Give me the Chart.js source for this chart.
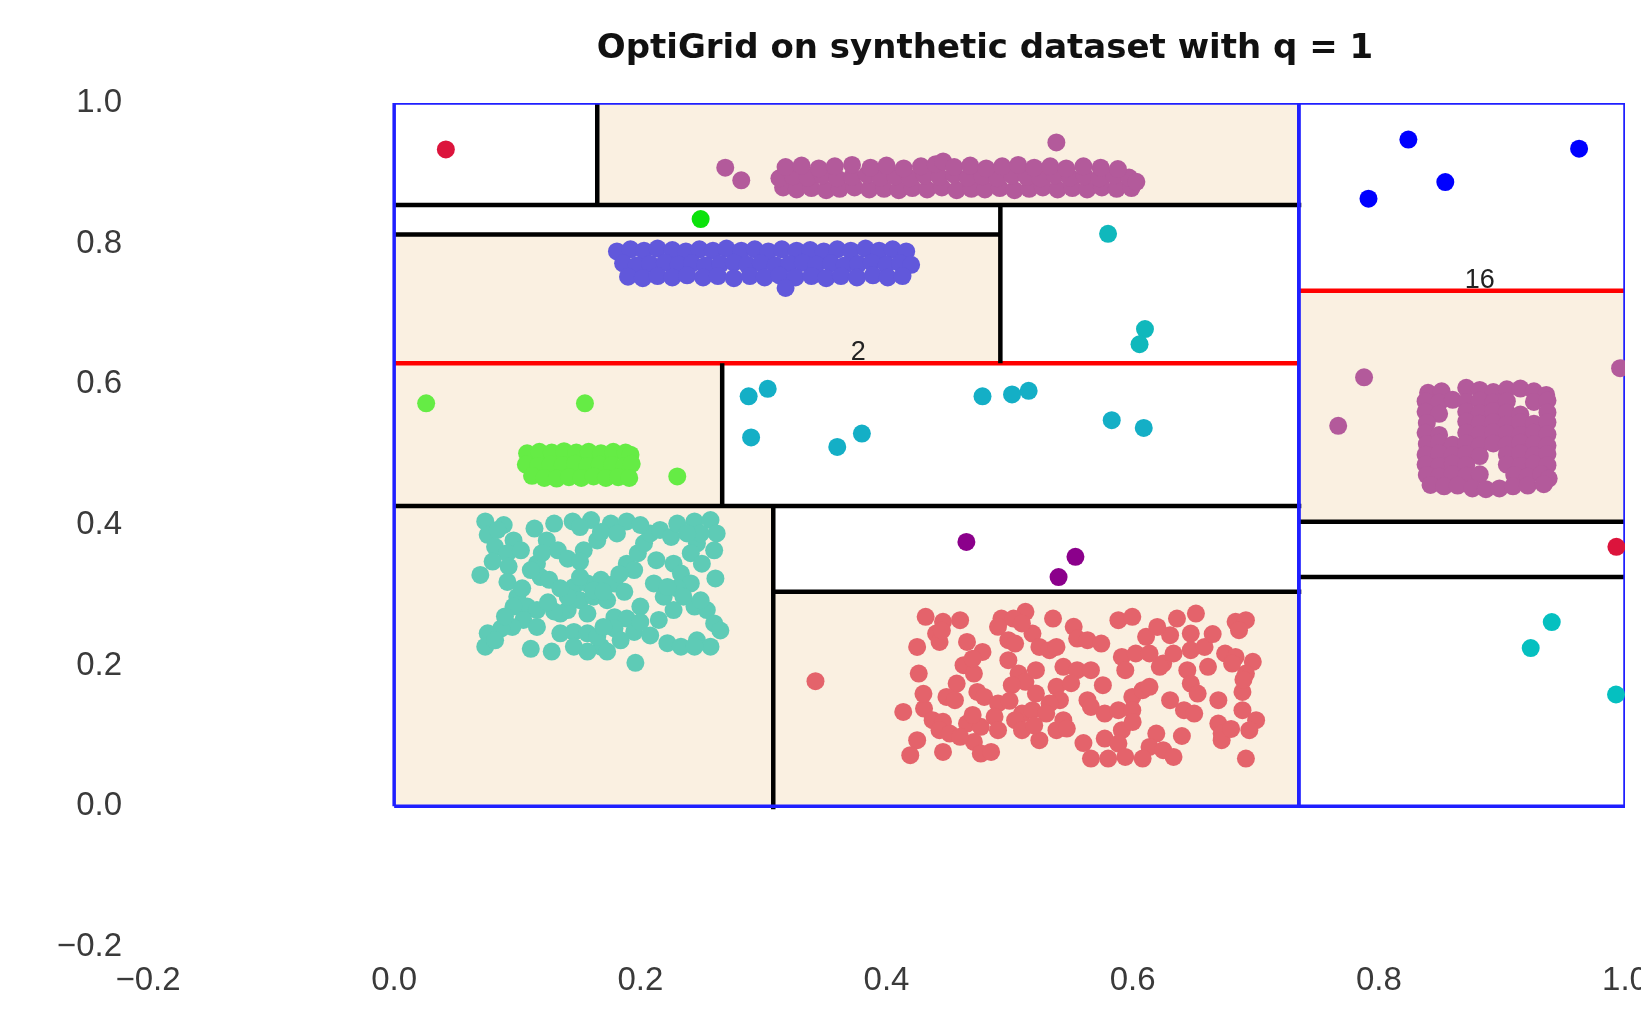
<!DOCTYPE html>
<html>
<head>
<meta charset="utf-8">
<title>OptiGrid on synthetic dataset with q = 1</title>
<script src="https://cdn.jsdelivr.net/npm/chart.js@4.4.1/dist/chart.umd.min.js"></script>
<style>
  html, body { margin: 0; padding: 0; overflow: hidden; background: #fff; }
  #wrap { position: relative; width: 1700px; height: 1011px; }
  #title {
    position: absolute; top: 29px; left: 985px; transform: translateX(-50%);
    font: bold 34px 'DejaVu Sans', sans-serif; line-height: 34px;
    white-space: nowrap; color: #111;
  }
</style>
</head>
<body>
<div id="wrap">
  <canvas id="chart"></canvas>
  <div id="title">OptiGrid on synthetic dataset with q = 1</div>
</div>
<script>
// ── tick labels ──
const xTicks = [-0.2, 0.0, 0.2, 0.4, 0.6, 0.8, 1.0];
const yTicks = [-0.2, 0.0, 0.2, 0.4, 0.6, 0.8, 1.0];

// ── grid: [x0, x1, y0, y1] ──
const outerBoxes = [[0, 0.735, 0, 1], [0.735, 1.0, 0, 1]];
const denseCells = [
    [0.165, 0.735, 0.855, 1.0],
    [0, 0.4925, 0.630, 0.813],
    [0, 0.2665, 0.427, 0.630],
    [0, 0.308, 0, 0.427],
    [0.308, 0.735, 0, 0.305],
    [0.735, 1.0, 0.4045, 0.733]
];
// cutting planes: [x0, x1, y0, y1]
const blackCuts = [
    [0, 0.737, 0.855, 0.855],
    [0.165, 0.165, 0.855, 1.0],
    [0, 0.4925, 0.813, 0.813],
    [0.4925, 0.4925, 0.630, 0.855],
    [0.2665, 0.2665, 0.427, 0.630],
    [0, 0.737, 0.427, 0.427],
    [0.308, 0.308, -0.004, 0.427],
    [0.308, 0.737, 0.305, 0.305],
    [0.735, 1.002, 0.4045, 0.4045],
    [0.735, 1.002, 0.326, 0.326]
];
const redCuts = [
    [0, 0.735, 0.630, 0.630],
    [0.735, 1.002, 0.733, 0.733]
];
const cutLabels = ['2', '16'];
const cutLabelX = [0.377, 0.882];
const cutLabelY = [0.645, 0.747];

// ── points ──
const crimsonPts = [[0.042, 0.934], [0.993, 0.369]];
const limePts = [[0.249, 0.835]];
const purpleBand = [
    [0.316,0.880],[0.327,0.877],[0.339,0.879],[0.351,0.876],[0.362,0.878],[0.374,0.880],[0.386,0.877],[0.398,0.878],[0.410,0.876],[0.421,0.879],[0.433,0.877],[0.445,0.880],[0.457,0.876],[0.469,0.878],[0.480,0.877],[0.492,0.879],[0.504,0.876],[0.516,0.878],[0.527,0.880],[0.539,0.877],[0.551,0.879],[0.563,0.877],[0.575,0.880],[0.587,0.878],[0.599,0.879],
    [0.313,0.893],[0.324,0.896],[0.336,0.894],[0.348,0.897],[0.360,0.893],[0.372,0.895],[0.384,0.898],[0.395,0.894],[0.407,0.896],[0.419,0.893],[0.431,0.897],[0.443,0.895],[0.455,0.898],[0.466,0.894],[0.478,0.896],[0.490,0.893],[0.502,0.897],[0.514,0.895],[0.525,0.893],[0.537,0.897],[0.549,0.894],[0.561,0.896],[0.573,0.893],[0.585,0.897],[0.597,0.894],[0.603,0.888],
    [0.318,0.909],[0.331,0.911],[0.345,0.907],[0.358,0.910],[0.372,0.912],[0.387,0.908],[0.400,0.911],[0.414,0.907],[0.428,0.910],[0.440,0.913],[0.446,0.917],[0.455,0.909],[0.468,0.911],[0.481,0.907],[0.494,0.910],[0.507,0.912],[0.520,0.908],[0.533,0.910],[0.546,0.907],[0.560,0.910],[0.574,0.908],[0.588,0.906],
    [0.269,0.908],[0.282,0.890],[0.538,0.944]
];
const violetBand = [
    [0.181,0.789],[0.192,0.792],[0.203,0.790],[0.214,0.793],[0.226,0.791],[0.237,0.789],[0.248,0.792],[0.259,0.790],[0.270,0.793],[0.282,0.790],[0.293,0.792],[0.304,0.789],[0.315,0.792],[0.327,0.790],[0.338,0.791],[0.349,0.789],[0.360,0.792],[0.371,0.790],[0.383,0.793],[0.394,0.790],[0.405,0.792],[0.416,0.789],
    [0.186,0.772],[0.197,0.769],[0.208,0.771],[0.220,0.773],[0.231,0.770],[0.242,0.772],[0.253,0.769],[0.265,0.771],[0.276,0.773],[0.287,0.770],[0.298,0.772],[0.310,0.769],[0.321,0.771],[0.332,0.773],[0.343,0.770],[0.355,0.772],[0.366,0.769],[0.377,0.771],[0.388,0.773],[0.400,0.770],[0.411,0.772],[0.420,0.770],
    [0.190,0.753],[0.202,0.751],[0.214,0.754],[0.226,0.752],[0.238,0.755],[0.251,0.752],[0.263,0.754],[0.276,0.751],[0.289,0.754],[0.301,0.752],[0.313,0.755],[0.326,0.752],[0.339,0.754],[0.351,0.751],[0.363,0.754],[0.376,0.752],[0.389,0.755],[0.401,0.752],[0.413,0.754],
    [0.318,0.737]
];
const greenBlob = [
    [0.108,0.502],[0.118,0.504],[0.128,0.503],[0.138,0.505],[0.148,0.503],[0.158,0.504],[0.168,0.502],[0.178,0.504],[0.188,0.503],[0.192,0.500],
    [0.107,0.486],[0.117,0.484],[0.127,0.486],[0.137,0.485],[0.147,0.487],[0.157,0.484],[0.167,0.486],[0.177,0.485],[0.187,0.484],[0.193,0.487],
    [0.112,0.470],[0.122,0.467],[0.132,0.466],[0.142,0.468],[0.152,0.467],[0.162,0.469],[0.172,0.467],[0.182,0.468],[0.191,0.467],
    [0.026,0.573],[0.155,0.573],[0.230,0.469]
];
const tealCluster = [
    [0.074,0.405],[0.089,0.400],[0.076,0.386],[0.082,0.369],[0.097,0.378],[0.092,0.360],[0.080,0.348],[0.070,0.329],[0.093,0.341],[0.092,0.319],
    [0.100,0.298],[0.108,0.284],[0.097,0.284],[0.116,0.279],[0.105,0.265],[0.096,0.255],[0.087,0.253],[0.076,0.246],[0.074,0.227],[0.082,0.236],
    [0.114,0.395],[0.130,0.402],[0.145,0.405],[0.160,0.407],[0.176,0.402],[0.189,0.405],[0.124,0.378],[0.133,0.364],[0.141,0.352],[0.154,0.364],[0.165,0.378],[0.151,0.348],[0.116,0.345],[0.119,0.326],[0.126,0.322],
    [0.146,0.312],[0.157,0.317],[0.168,0.322],[0.179,0.317],[0.187,0.305],[0.151,0.293],[0.162,0.298],[0.173,0.293],[0.141,0.279],[0.157,0.274],[0.179,0.269],[0.189,0.267],[0.135,0.274],
    [0.189,0.345],[0.198,0.360],[0.195,0.336],[0.203,0.374],[0.208,0.388],[0.216,0.393],[0.225,0.383],[0.230,0.402],[0.244,0.405],[0.257,0.407],[0.262,0.388],[0.260,0.364],[0.246,0.374],[0.241,0.360],[0.227,0.345],[0.233,0.331],[0.241,0.317],[0.230,0.310],[0.235,0.298],[0.211,0.317],[0.219,0.298],[0.227,0.279],[0.244,0.284],[0.254,0.279],[0.260,0.260],[0.265,0.250],[0.261,0.324],[0.200,0.284],
    [0.135,0.246],[0.146,0.248],[0.157,0.246],[0.179,0.253],[0.195,0.248],[0.208,0.243],[0.184,0.236],[0.168,0.227],[0.157,0.220],[0.146,0.227],[0.173,0.220],[0.128,0.220],[0.111,0.224],[0.222,0.232],[0.233,0.227],[0.246,0.236],[0.257,0.227],[0.196,0.204],
    [0.151,0.397],[0.168,0.390],[0.181,0.388],[0.084,0.393],[0.103,0.364],[0.111,0.336],[0.162,0.307],[0.151,0.326],[0.141,0.298],[0.130,0.277],[0.249,0.388],[0.238,0.388],[0.222,0.312],[0.249,0.293],[0.116,0.255],[0.165,0.241],[0.244,0.227],
    [0.135,0.310],[0.170,0.305],[0.183,0.330],[0.104,0.310],[0.120,0.360],[0.213,0.350],[0.250,0.345],[0.090,0.270],[0.200,0.400],[0.125,0.290],[0.200,0.262],[0.215,0.265],[0.170,0.255]
];
const redCluster = [
    [0.4318,0.2694],[0.4459,0.2623],[0.4598,0.2647],[0.4934,0.2670],[0.5129,0.2765],[0.5032,0.2670],[0.5353,0.2670],[0.5521,0.2552],[0.5884,0.2647],[0.5997,0.2694],[0.6360,0.2670],[0.6514,0.2741],[0.6836,0.2623],[0.6920,0.2647],
    [0.4249,0.2267],[0.4403,0.2457],[0.4431,0.2338],[0.4654,0.2338],[0.4780,0.2196],[0.4906,0.2552],[0.4990,0.2362],[0.5045,0.2315],[0.5186,0.2457],[0.5242,0.2267],[0.5325,0.2220],[0.5381,0.2267],[0.5549,0.2386],[0.5633,0.2362],[0.5745,0.2315],[0.6109,0.2410],[0.6304,0.2433],[0.6472,0.2457],[0.6864,0.2504],
    [0.4262,0.1888],[0.4626,0.2007],[0.4710,0.1888],[0.4990,0.2078],[0.5073,0.1888],[0.5129,0.1770],[0.5214,0.1936],[0.5437,0.1983],[0.5549,0.1936],[0.5661,0.1936],[0.5912,0.2125],[0.6025,0.2173],[0.6137,0.2173],[0.6248,0.2030],[0.6332,0.2173],[0.6472,0.2220],[0.6584,0.2267],[0.6444,0.1936],[0.6612,0.1983],[0.6751,0.2173],[0.6836,0.2125],[0.6976,0.2054],[0.6920,0.1888],[0.6808,0.2030],[0.5940,0.1936],[0.6220,0.1983],
    [0.4570,0.1746],[0.4487,0.1556],[0.4556,0.1509],[0.4738,0.1627],[0.4794,0.1556],[0.5018,0.1722],[0.5214,0.1604],[0.5381,0.1699],[0.5409,0.1509],[0.5325,0.1462],[0.5758,0.1722],[0.5633,0.1509],[0.5997,0.1556],[0.6081,0.1651],[0.6137,0.1699],[0.6304,0.1509],[0.6472,0.1746],[0.6528,0.1604],[0.6696,0.1509],[0.6892,0.1627],
    [0.4136,0.1343],[0.4305,0.1390],[0.4375,0.1225],[0.4459,0.1201],[0.4654,0.1177],[0.4766,0.1130],[0.4906,0.1462],[0.4878,0.1272],[0.5101,0.1319],[0.5045,0.1225],[0.5186,0.1367],[0.5298,0.1319],[0.5437,0.1225],[0.5381,0.1082],[0.5661,0.1414],[0.5773,0.1319],[0.5884,0.1367],[0.5997,0.1367],[0.6417,0.1367],[0.6500,0.1319],[0.6696,0.1177],[0.6892,0.1367],[0.7003,0.1225],
    [0.4249,0.0940],[0.4431,0.1082],[0.4514,0.1035],[0.4710,0.0916],[0.4598,0.0988],[0.4906,0.1082],[0.5101,0.1082],[0.5242,0.0940],[0.5465,0.1106],[0.5773,0.0964],[0.5912,0.1082],[0.5884,0.0893],[0.6192,0.1035],[0.6137,0.0845],[0.6248,0.0798],[0.6723,0.1035],[0.6948,0.1082],
    [0.4193,0.0727],[0.4459,0.0774],[0.4766,0.0751],[0.4850,0.0774],[0.5661,0.0679],[0.5801,0.0679],[0.5940,0.0703],[0.6081,0.0679],[0.6332,0.0703],[0.6920,0.0679],[0.6723,0.0940],
    [0.445,0.250],[0.470,0.210],[0.510,0.260],[0.550,0.175],[0.620,0.255],[0.665,0.245],[0.690,0.180],[0.500,0.150],[0.520,0.115],[0.560,0.090],[0.600,0.120],[0.640,0.100],[0.680,0.110],[0.470,0.130],[0.430,0.160],
    [0.3423,0.1779]
];
const rightPurple = [
    [0.840,0.588],[0.851,0.590],[0.871,0.595],[0.882,0.592],[0.893,0.589],[0.904,0.593],[0.915,0.594],[0.926,0.590],[0.936,0.585],
    [0.838,0.576],[0.849,0.574],[0.860,0.578],[0.871,0.575],[0.882,0.577],[0.893,0.574],[0.904,0.576],[0.926,0.575],[0.937,0.577],
    [0.838,0.561],[0.849,0.558],[0.871,0.561],[0.882,0.559],[0.893,0.562],[0.904,0.560],[0.915,0.557],[0.937,0.560],
    [0.839,0.545],[0.871,0.547],[0.882,0.544],[0.893,0.546],[0.904,0.543],[0.915,0.546],[0.926,0.544],[0.937,0.546],
    [0.838,0.531],[0.849,0.528],[0.871,0.531],[0.882,0.529],[0.893,0.532],[0.904,0.530],[0.915,0.528],[0.926,0.531],[0.937,0.529],
    [0.839,0.515],[0.849,0.517],[0.860,0.514],[0.871,0.516],[0.882,0.513],[0.893,0.516],[0.904,0.514],[0.915,0.517],[0.926,0.515],[0.937,0.513],
    [0.838,0.500],[0.849,0.502],[0.860,0.499],[0.871,0.501],[0.882,0.498],[0.904,0.500],[0.915,0.502],[0.926,0.499],[0.937,0.501],
    [0.838,0.486],[0.849,0.484],[0.860,0.487],[0.871,0.485],[0.904,0.486],[0.915,0.484],[0.926,0.487],[0.937,0.485],
    [0.839,0.471],[0.849,0.469],[0.860,0.472],[0.871,0.470],[0.882,0.472],[0.910,0.471],[0.921,0.469],[0.932,0.472],[0.938,0.466],
    [0.842,0.457],[0.853,0.455],[0.864,0.456],[0.876,0.452],[0.887,0.451],[0.898,0.452],[0.909,0.455],[0.921,0.456],[0.934,0.458],
    [0.788,0.610],[0.767,0.541],[0.996,0.623]
];
const cyanUpper = [[0.580,0.814],[0.610,0.6785],[0.6056,0.657]];
const cyanMiddle = [[0.288,0.583],[0.3035,0.5936],[0.290,0.5245],[0.360,0.511],[0.380,0.530],[0.478,0.583],[0.502,0.5856],[0.5155,0.5908],[0.583,0.549],[0.609,0.538]];
const cyanRight = [[0.9405,0.262],[0.9234,0.225],[0.9927,0.159]];
const magentaPts = [[0.4649,0.376],[0.5535,0.3547],[0.5398,0.326]];
const bluePts = [[0.824,0.948],[0.9627,0.935],[0.854,0.8876],[0.7916,0.864]];

const CELL_COLOR = '#faf0e1';
const TICK_FONT = { family: "'Liberation Sans', Arial, sans-serif", size: 33 };

const fmtTick = v => {
    if (Math.abs(v) < 1e-9) return '0.0';
    return (v < 0 ? '\u2212' : '') + Math.abs(v).toFixed(1);
};

const toXY = arr => arr.map(([x, y]) => ({ x, y }));

function pointSet(label, arr, color) {
    return {
        label,
        data: toXY(arr),
        backgroundColor: color,
        borderColor: color,
        borderWidth: 0,
        pointRadius: 9,
        pointHoverRadius: 9,
        order: 0
    };
}

function segSet(seg, color, width) {
    const [x0, x1, y0, y1] = seg;
    return {
        data: [{ x: x0, y: y0 }, { x: x1, y: y1 }],
        showLine: true,
        borderColor: color,
        borderWidth: width,
        pointRadius: 0,
        fill: false,
        order: 1
    };
}

function boxSet(box, color, width) {
    const [x0, x1, y0, y1] = box;
    return {
        data: [{ x: x0, y: y0 }, { x: x1, y: y0 }, { x: x1, y: y1 }, { x: x0, y: y1 }, { x: x0, y: y0 }],
        showLine: true,
        borderColor: color,
        borderWidth: width,
        pointRadius: 0,
        fill: false,
        order: 1
    };
}

const datasets = [
    ...outerBoxes.map(b => boxSet(b, '#1f1fff', 3.5)),
    ...blackCuts.map(s => segSet(s, '#000', 4.5)),
    ...redCuts.map(s => segSet(s, '#ff0000', 4.5)),
    pointSet('crimson', crimsonPts, '#dc143c'),
    pointSet('lime', limePts, '#0be20b'),
    pointSet('purple band', purpleBand, '#b35a9b'),
    pointSet('violet band', violetBand, '#6158db'),
    pointSet('green', greenBlob, '#65ec45'),
    pointSet('teal', tealCluster, '#5ecbb6'),
    pointSet('red', redCluster, '#e4636b'),
    pointSet('right purple', rightPurple, '#b35a9b'),
    pointSet('cyan upper', cyanUpper, '#10b8bc'),
    pointSet('cyan middle', cyanMiddle, '#14afc6'),
    pointSet('cyan right', cyanRight, '#05c0c0'),
    pointSet('magenta', magentaPts, '#8b008b'),
    pointSet('blue', bluePts, '#0000ff')
];

// beige dense cells under the data, cut labels on top
const gridPaint = {
    id: 'gridPaint',
    beforeDatasetsDraw(chart) {
        const { ctx, scales: { x, y } } = chart;
        ctx.save();
        ctx.fillStyle = CELL_COLOR;
        denseCells.forEach(([x0, x1, y0, y1]) => {
            const px0 = x.getPixelForValue(x0), px1 = x.getPixelForValue(x1);
            const py0 = y.getPixelForValue(y0), py1 = y.getPixelForValue(y1);
            ctx.fillRect(px0, py1, px1 - px0, py0 - py1);
        });
        ctx.restore();
    },
    afterDatasetsDraw(chart) {
        const { ctx, scales: { x, y } } = chart;
        ctx.save();
        ctx.fillStyle = '#222';
        ctx.font = "27px 'Liberation Sans', Arial, sans-serif";
        ctx.textAlign = 'center';
        ctx.textBaseline = 'middle';
        cutLabels.forEach((t, i) => {
            ctx.fillText(t, x.getPixelForValue(cutLabelX[i]), y.getPixelForValue(cutLabelY[i]));
        });
        ctx.restore();
    }
};

new Chart(document.getElementById('chart'), {
    type: 'scatter',
    data: { datasets },
    plugins: [gridPaint],
    options: {
        responsive: true,
        maintainAspectRatio: false,
        animation: false,
        events: [],
        layout: { padding: { top: 103, right: 75, left: 0, bottom: 0 } },
        scales: {
            x: {
                type: 'linear',
                min: -0.2, max: 1.0,
                afterBuildTicks: s => { s.ticks = xTicks.map(v => ({ value: v })); },
                afterFit: s => { s.height = 64; },
                ticks: { callback: fmtTick, color: '#3a3a3a', font: TICK_FONT, padding: 14, maxRotation: 0, autoSkip: false },
                grid: { display: false, drawTicks: false },
                border: { display: false }
            },
            y: {
                type: 'linear',
                min: -0.2, max: 1.0,
                afterBuildTicks: s => { s.ticks = yTicks.map(v => ({ value: v })); },
                afterFit: s => { s.width = 148; },
                ticks: { callback: fmtTick, color: '#3a3a3a', font: TICK_FONT, padding: 26, autoSkip: false },
                grid: { display: false, drawTicks: false },
                border: { display: false }
            }
        },
        plugins: {
            legend: { display: false },
            tooltip: { enabled: false },
            title: { display: false }
        }
    }
});
</script>
</body>
</html>
